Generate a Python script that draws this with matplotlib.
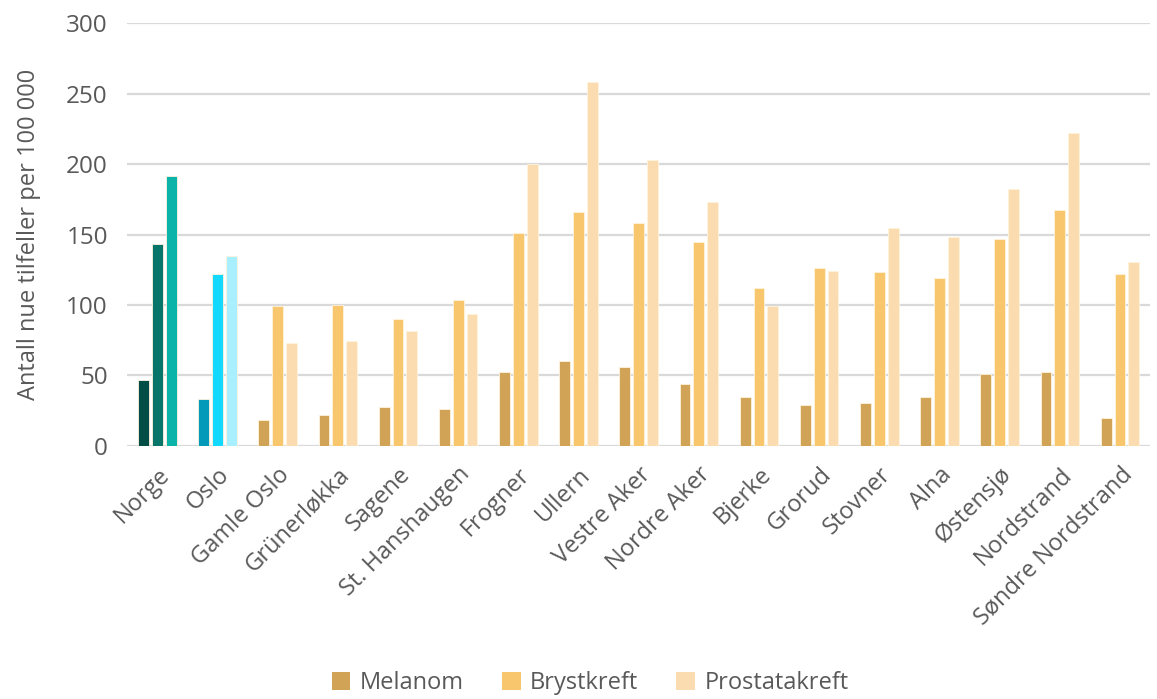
import matplotlib.pyplot as plt
import numpy as np

plt.rcParams['font.family'] = ['Open Sans', 'DejaVu Sans']

bydeler = ['Norge', 'Oslo', 'Gamle Oslo', 'Grünerløkka', 'Sagene', 'St. Hanshaugen',
           'Frogner', 'Ullern', 'Vestre Aker', 'Nordre Aker', 'Bjerke', 'Grorud',
           'Stovner', 'Alna', 'Østensjø', 'Nordstrand', 'Søndre Nordstrand']
melanom = [46.8, 33.3, 18.4, 22, 27.7, 26, 52.5, 60.3, 56, 43.7, 34.7, 29, 30.5, 34.7, 50.8, 52.2, 19.9]
brystkreft = [143.5, 122, 99.5, 100.2, 90, 103.5, 151, 166, 158, 144.7, 112.3, 126.5, 123.4, 119, 146.8, 167.4, 122]
prostatakreft = [191.5, 135, 73, 74.5, 81.5, 93.4, 200, 258, 203, 173, 99.3, 124, 154.6, 148, 182.5, 222, 130.7]

serier = ['Melanom', 'Brystkreft', 'Prostatakreft']
farger = ['#D0A357', '#F8C66D', '#FADCB0']
norge_farger = ['#034D47', '#08756B', '#0BB3A8']
oslo_farger = ['#029AB8', '#14D9FF', '#A8F0FF']

fig = plt.figure(figsize=(11.57, 6.99), dpi=100)
ax = fig.add_axes([0.11, 0.362, 0.884, 0.605])

x = np.arange(len(bydeler))
bredde = 0.18
avstand = 0.23
grey = '#595959'

for i, (navn, verdier) in enumerate(zip(serier, [melanom, brystkreft, prostatakreft])):
    cols = [farger[i]] * len(bydeler)
    cols[0] = norge_farger[i]
    cols[1] = oslo_farger[i]
    ax.bar(x + (i - 1) * avstand, verdier, bredde, color=cols, edgecolor='#FFF3DC',
           linewidth=0.6, zorder=3)
    ax.bar([0], [0], color=farger[i], label=navn)

ax.set_ylim(0, 300)
ax.set_xlim(-0.5, len(bydeler) - 0.5)
ax.set_yticks(range(0, 301, 50))
ax.yaxis.grid(True, color='#D9D9D9', linewidth=1.6, zorder=0)
ax.set_axisbelow(True)
for s in ax.spines.values():
    s.set_visible(False)
ax.tick_params(length=0, colors=grey, labelsize=17.5)
ax.tick_params(axis='y', pad=14)
ax.tick_params(axis='x', pad=12)
ax.set_xticks(x)
ax.set_xticklabels(bydeler, rotation=45, ha='right', rotation_mode='anchor', fontsize=17, color=grey)
ax.set_ylabel('Antall nue tilfeller per 100 000', fontsize=17, color=grey, labelpad=18)

fig.legend(loc='lower center', ncol=3, frameon=False, fontsize=17, labelcolor=grey,
           handlelength=0.8, handleheight=0.8, columnspacing=1.6, handletextpad=0.4,
           bbox_to_anchor=(0.51, -0.025))

fig.savefig('out.png', dpi=100)
